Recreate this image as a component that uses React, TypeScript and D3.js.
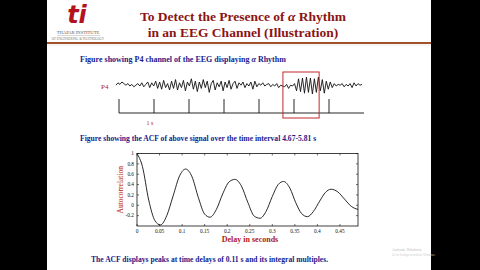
import React from "react";
import * as d3 from "d3";

const acfDelay = [0, 0.012, 0.026, 0.04, 0.052, 0.066, 0.08, 0.095, 0.108, 0.122, 0.136, 0.15, 0.162, 0.176, 0.19, 0.204, 0.217, 0.231, 0.246, 0.26, 0.273, 0.286, 0.3, 0.313, 0.325, 0.339, 0.352, 0.365, 0.378, 0.391, 0.405, 0.418, 0.43, 0.445, 0.46, 0.475, 0.49];
const acfValue = [1, 0.75, 0.1, -0.3, -0.38, -0.2, 0.18, 0.58, 0.7, 0.55, 0.15, -0.17, -0.23, -0.08, 0.22, 0.45, 0.5, 0.38, 0.05, -0.21, -0.25, -0.12, 0.17, 0.4, 0.46, 0.33, 0.05, -0.16, -0.22, -0.12, 0.08, 0.25, 0.31, 0.26, 0.12, -0.02, -0.08];
const xTicks = [0, 0.05, 0.1, 0.15, 0.2, 0.25, 0.3, 0.35, 0.4, 0.45];
const xTickLabels = ["0", "0.05", "0.1", "0.15", "0.2", "0.25", "0.3", "0.35", "0.4", "0.45"];
const yTicks = [1, 0.8, 0.6, 0.4, 0.2, 0, -0.2];
const yTickLabels = ["1", "0.8", "0.6", "0.4", "0.2", "0", "-0.2"];

// EEG P4 samples (arbitrary units), 0..7 s
const eegValues = [
  0.1, 0.4, 0.2, 0.5, 0.3, 0.1, 0.3, 0.0, 0.2, -0.1, 0.1, 0.3, 0.0, 0.4, -0.1, 0.2, 0.5, -0.2, 0.4, 0.0,
  0.6, -0.3, 0.5, -0.4, 0.7, -0.2, 0.3, -0.5, 0.6, -0.3, 0.8, -0.5, 0.4, -0.2, 0.7, -0.6, 0.5, 0.0, 0.9, -0.4,
  0.6, -0.7, 0.5, -0.3, 0.8, -0.2, 0.6, -0.8, 0.3, 0.7, -0.5, 0.4, -0.1, 0.6, -0.6, 0.5, -0.2, 0.7, -0.4, 0.3,
  0.6, -0.3, 0.4, 0.1, 0.5, -0.2, 0.3, 0.0, 0.5, -0.4, 0.6, -0.1, 0.3, 0.1, 0.4, 0.0, 0.2, 0.3, -0.1, 0.2,
  0.0, 0.3, -0.2, 0.1, 0.0, -0.1, 0.2, -0.3, 0.1, 0.0, 0.3, -0.6, 0.9, -0.7, 1.0, -0.9, 1.1, -0.8, 1.0, -1.0,
  0.9, -0.8, 1.1, -0.6, 0.8, -0.9, 0.6, -0.4, 0.5, -0.2, 0.3, 0.0, 0.2, 0.1, 0.3, -0.1, 0.2, 0.0, 0.3, -0.2,
  0.4, 0.0, 0.3, 0.1, 0.2,
];
const secondMarks = [0, 1, 2, 3, 4, 5, 6];
const eegDuration = 7;
const alphaWindow = [4.75, 5.78];

const W = 480;
const H = 270;
const NAVY = "#1a1a8c";
const RED = "#b01818";
const serif = "'Liberation Serif', 'Times New Roman', serif";

export default function App() {
  // ACF plot
  const px0 = 137, px1 = 358, py0 = 153.5, py1 = 226;
  const x = d3.scaleLinear().domain([0, 0.49]).range([px0, px1]);
  const y = d3.scaleLinear().domain([-0.4, 1]).range([py1, py0]);
  const line = d3
    .line<number>()
    .x((_, i) => x(acfDelay[i]))
    .y((d) => y(d))
    .curve(d3.curveMonotoneX);

  // EEG
  const ex = d3.scaleLinear().domain([0, eegDuration]).range([116, 362]);
  const ey = d3.scaleLinear().domain([-1, 1]).range([94, 78]);
  const eegLine = d3
    .line<number>()
    .x((_, i) => ex((i / (eegValues.length - 1)) * eegDuration))
    .y((d) => ey(d))
    .curve(d3.curveLinear);
  const sx = d3.scaleLinear().domain([0, 7]).range([119, 364]);

  return (
    <svg
      width={W}
      height={H}
      style={{ position: "absolute", left: 0, top: 0, background: "#fff" }}
      fontFamily={serif}
    >
      <rect x={0} y={0} width={W} height={H} fill="#fff" />
      <rect x={0} y={0} width={47} height={H} fill="#000" />
      <rect x={431} y={0} width={49} height={H} fill="#000" />

      {/* logo */}
      <text x={77} y={23} textAnchor="middle" fontSize={24} fontWeight="bold" fill="#b3121f" fontFamily="'DejaVu Sans', sans-serif" fontStyle="italic">ti</text>
      <text x={78} y={33.5} textAnchor="middle" fontSize={4.6} fill="#555">THAPAR INSTITUTE</text>
      <line x1={57} x2={100} y1={35.5} y2={35.5} stroke="#999" strokeWidth={0.4} />
      <text x={78} y={39.8} textAnchor="middle" fontSize={3.2} fill="#777">OF ENGINEERING &amp; TECHNOLOGY</text>

      {/* title */}
      <text x={243} y={21} textAnchor="middle" fontSize={13.5} fontWeight="bold" fill="#8b1414">
        To Detect the Presence of <tspan fontStyle="italic">α</tspan> Rhythm
      </text>
      <text x={243} y={37} textAnchor="middle" fontSize={13.5} fontWeight="bold" fill="#8b1414">
        in an EEG Channel (Illustration)
      </text>
      <line x1={47} x2={431} y1={43} y2={43} stroke="#a0522d" strokeWidth={2} />
      <line x1={47} x2={431} y1={45} y2={45} stroke="#ddd" strokeWidth={0.6} />

      <text x={80} y={62} fontSize={8} fontWeight="bold" fill={NAVY}>
        Figure showing P4 channel of the EEG displaying <tspan fontStyle="italic">α</tspan> Rhythm
      </text>

      {/* EEG */}
      <text x={101} y={89} fontSize={7} fill={RED}>P4</text>
      <path d={eegLine(eegValues) || ""} fill="none" stroke="#111" strokeWidth={0.9} />
      <line x1={sx(0)} x2={364} y1={113} y2={113} stroke="#111" strokeWidth={0.9} />
      {secondMarks.map((s) => (
        <line key={s} x1={sx(s)} x2={sx(s)} y1={99} y2={113} stroke="#111" strokeWidth={0.9} />
      ))}
      <text x={150} y={125} textAnchor="middle" fontSize={6} fill={RED}>1 s</text>
      <rect
        x={ex(alphaWindow[0])}
        y={72}
        width={ex(alphaWindow[1]) - ex(alphaWindow[0])}
        height={46}
        fill="none"
        stroke="#c0282d"
        strokeWidth={1}
      />

      <text x={80} y={141} fontSize={7.6} fontWeight="bold" fill={NAVY}>
        Figure showing the ACF of above signal over the time interval 4.67-5.81 s
      </text>

      {/* ACF frame */}
      <rect x={px0} y={py0} width={px1 - px0} height={py1 - py0} fill="none" stroke="#111" strokeWidth={0.8} />
      {xTicks.map((t, i) => (
        <g key={"xt" + i}>
          <line x1={x(t)} x2={x(t)} y1={py1} y2={py1 - 2} stroke="#111" strokeWidth={0.6} />
          <line x1={x(t)} x2={x(t)} y1={py0} y2={py0 + 2} stroke="#111" strokeWidth={0.6} />
          <text x={x(t)} y={py1 + 6.5} textAnchor="middle" fontSize={5.3} fill="#111">{xTickLabels[i]}</text>
        </g>
      ))}
      {yTicks.map((t, i) => (
        <g key={"yt" + i}>
          <line x1={px0} x2={px0 + 2} y1={y(t)} y2={y(t)} stroke="#111" strokeWidth={0.6} />
          <line x1={px1} x2={px1 - 2} y1={y(t)} y2={y(t)} stroke="#111" strokeWidth={0.6} />
          <text x={px0 - 3} y={y(t) + 1.8} textAnchor="end" fontSize={5.3} fill="#111">{yTickLabels[i]}</text>
        </g>
      ))}
      <path d={line(acfValue) || ""} fill="none" stroke="#111" strokeWidth={0.9} />
      <text
        transform={`translate(${123},${(py0 + py1) / 2}) rotate(-90)`}
        textAnchor="middle"
        fontSize={7.5}
        fill={RED}
      >
        Autocorrelation
      </text>
      <text x={250} y={242} textAnchor="middle" fontSize={8} fontWeight="bold" fill={RED}>
        Delay in seconds
      </text>

      <text x={91} y={262} fontSize={7.6} fontWeight="bold" fill={NAVY}>
        The ACF displays peaks at time delays of 0.11 s and its integral multiples.
      </text>

      <text x={392} y={251} fontSize={4} fill="#bbb">Activate Windows</text>
      <text x={392} y={256} fontSize={3} fill="#ccc">Go to Settings to activate Windows.</text>
    </svg>
  );
}
